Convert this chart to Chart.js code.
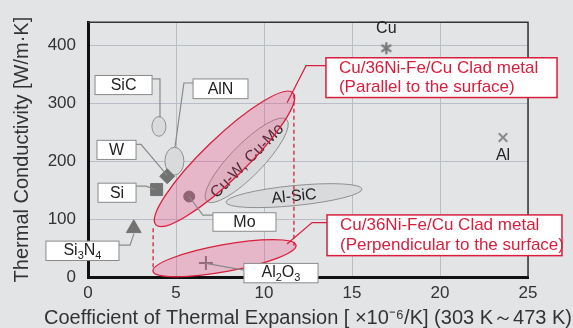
<!DOCTYPE html>
<html>
<head>
<meta charset="utf-8">
<title>Thermal conductivity vs thermal expansion</title>
<script src="https://cdn.jsdelivr.net/npm/chart.js@4.4.0/dist/chart.umd.min.js"></script>
<style>
  html, body { margin: 0; padding: 0; background: #e3e4e6; }
  #wrap { width: 573px; height: 328px; }
</style>
</head>
<body>
<div id="wrap"><canvas id="chart" width="573" height="328"></canvas></div>
<script>
// axis ticks and titles
var xTicks = [0, 5, 10, 15, 20, 25];
var yTicks = [0, 100, 200, 300, 400];
var xTitle = 'Coefficient of Thermal Expansion [ \u00d710\u207b\u2076/K] (303 K\uff5e473 K)';
var yTitle = 'Thermal Conductivity [W/m\u00b7K]';

// single materials (CTE x10^-6/K, thermal conductivity W/m.K)
var pointNames = ['Cu', 'Al', 'Si', 'W', 'Mo', 'Si3N4', 'Al2O3'];
var pointCte   = [16.95, 23.58, 3.9, 4.5, 5.75, 2.6, 6.7];
var pointTc    = [395, 241, 151, 174, 139, 84, 24];

// material ranges: the two ends of each ellipse's long axis
var zoneNames   = ['SiC', 'AlN', 'Cu-W, Cu-Mo', 'Al-SiC', 'Clad parallel', 'Clad perpendicular'];
var zoneCteFrom = [4.03, 4.91, 6.74, 7.84, 3.86, 3.69];
var zoneTcFrom  = [243, 176, 131, 129, 90, 10];
var zoneCteTo   = [4.03, 4.91, 11.29, 15.57, 11.65, 11.82];
var zoneTcTo    = [277, 224, 272, 152, 318, 55];

// dashed links between the two clad metal ranges
var linkCte    = [3.7, 11.7];
var linkTcLow  = [17, 54];
var linkTcHigh = [87, 315];

var FONT = '"Liberation Sans", Arial, sans-serif';
Chart.defaults.font.family = FONT;

var RED = '#d81e3c';

// look of each zone (half width in px)
var zoneStyle = [
  { half: 7,    fill: '#d9dadb', stroke: '#8f8f8f', lw: 1 },
  { half: 9.5,  fill: '#d9dadb', stroke: '#8f8f8f', lw: 1 },
  { half: 16,   fill: '#d9dadb', stroke: '#8f8f8f', lw: 1 },
  { half: 10,   fill: '#d9dadb', stroke: '#8f8f8f', lw: 1 },
  { half: 21,   fill: 'rgba(236,64,122,0.27)', stroke: RED, lw: 1.3 },
  { half: 13.5, fill: 'rgba(236,64,122,0.27)', stroke: RED, lw: 1.3 }
];

// label boxes and leader lines, placed in data units
var callouts = [
  { text: ['SiC'], box: [0.40, 348, 3.64, 315], leader: [[3.64, 342], [4.09, 342], [4.09, 276]] },
  { text: ['AlN'], box: [5.97, 342, 9.09, 308], leader: [[5.97, 335], [5.45, 335], [4.94, 224]] },
  { text: ['W'], box: [0.51, 236, 2.73, 203], leader: [[2.73, 229], [3.01, 229], [4.49, 176]] },
  { text: ['Si'], box: [0.57, 162, 2.73, 129], leader: [[2.73, 157], [3.30, 157], [3.81, 151]] },
  { text: ['Mo'], box: [7.10, 111, 10.68, 79], leader: [[5.74, 139], [6.53, 107], [7.10, 107]] },
  { text: ['Si3N4'], sub: true, box: [-2.39, 62, 1.76, 28.5], leader: [[1.76, 55], [2.39, 55], [2.61, 75]] },
  { text: ['Al2O3'], sub: true, box: [8.86, 23.5, 13.07, -10], leader: [[6.70, 23.5], [8.86, 12]] },
  { text: ['Cu/36Ni-Fe/Cu Clad metal', '(Parallel to the surface)'], red: true,
    box: [13.52, 378.6, 26.65, 309.9], leader: [[13.52, 365], [12.39, 365], [11.31, 301]] },
  { text: ['Cu/36Ni-Fe/Cu Clad metal', '(Perpendicular to the surface)'], red: true,
    box: [13.58, 107.2, 26.93, 36.9], leader: [[13.58, 94], [12.73, 94], [11.31, 57]] }
];

function asterisk(size, color) {
  var c = document.createElement('canvas');
  c.width = c.height = size;
  var g = c.getContext('2d');
  g.strokeStyle = color;
  g.lineWidth = 2.2;
  var m = size / 2, r = size / 2 - 1;
  [90, 35, 145].forEach(function (a) {
    var t = a * Math.PI / 180;
    g.beginPath();
    g.moveTo(m - r * Math.cos(t), m - r * Math.sin(t));
    g.lineTo(m + r * Math.cos(t), m + r * Math.sin(t));
    g.stroke();
  });
  return c;
}

function P(chart, x, y) {
  return [chart.scales.x.getPixelForValue(x), chart.scales.y.getPixelForValue(y)];
}

function zoneGeom(chart, i) {
  var a = P(chart, zoneCteFrom[i], zoneTcFrom[i]);
  var b = P(chart, zoneCteTo[i], zoneTcTo[i]);
  var dx = b[0] - a[0], dy = b[1] - a[1];
  return { cx: (a[0] + b[0]) / 2, cy: (a[1] + b[1]) / 2, rx: Math.sqrt(dx * dx + dy * dy) / 2, ang: Math.atan2(dy, dx) };
}

function drawZone(chart, i) {
  var ctx = chart.ctx, s = zoneStyle[i], g = zoneGeom(chart, i);
  ctx.save();
  ctx.beginPath();
  ctx.ellipse(g.cx, g.cy, g.rx, s.half, g.ang, 0, Math.PI * 2);
  ctx.fillStyle = s.fill;
  ctx.fill();
  ctx.lineWidth = s.lw;
  ctx.strokeStyle = s.stroke;
  ctx.stroke();
  ctx.restore();
}

function drawZoneLabel(chart, i) {
  var ctx = chart.ctx, g = zoneGeom(chart, i);
  ctx.save();
  ctx.translate(g.cx, g.cy);
  ctx.rotate(g.ang);
  ctx.fillStyle = '#222';
  ctx.font = '16px ' + FONT;
  ctx.textAlign = 'center';
  ctx.textBaseline = 'middle';
  ctx.fillText(zoneNames[i], 0, 1);
  ctx.restore();
}

// text with digits as subscripts (Si3N4, Al2O3)
function subText(ctx, str, x, y) {
  var parts = str.match(/[A-Za-z]+|\d+/g);
  var big = '16px ' + FONT, small = '11px ' + FONT;
  var w = 0;
  parts.forEach(function (p) { ctx.font = /\d/.test(p) ? small : big; w += ctx.measureText(p).width; });
  var cx = x - w / 2;
  ctx.textAlign = 'left';
  parts.forEach(function (p) {
    var isSub = /\d/.test(p);
    ctx.font = isSub ? small : big;
    ctx.fillText(p, cx, isSub ? y + 5 : y);
    cx += ctx.measureText(p).width;
  });
}

var overlay = {
  id: 'overlay',
  beforeDatasetsDraw: function (chart) {
    for (var i = 0; i < 4; i++) drawZone(chart, i);
    drawZoneLabel(chart, 2);
    drawZoneLabel(chart, 3);
  },
  afterDatasetsDraw: function (chart) {
    var ctx = chart.ctx, area = chart.chartArea;
    drawZone(chart, 4);
    drawZone(chart, 5);

    // dashed links
    ctx.save();
    ctx.strokeStyle = RED;
    ctx.lineWidth = 1.3;
    ctx.setLineDash([4, 3]);
    for (var k = 0; k < linkCte.length; k++) {
      var a = P(chart, linkCte[k], linkTcLow[k]), b = P(chart, linkCte[k], linkTcHigh[k]);
      ctx.beginPath();
      ctx.moveTo(a[0], a[1]);
      ctx.lineTo(b[0], b[1]);
      ctx.stroke();
    }
    ctx.restore();

    // top and right frame
    ctx.save();
    ctx.strokeStyle = '#333';
    ctx.lineWidth = 1.5;
    ctx.beginPath();
    ctx.moveTo(area.left, area.top);
    ctx.lineTo(area.right, area.top);
    ctx.lineTo(area.right, area.bottom);
    ctx.stroke();
    ctx.restore();

    // callouts
    callouts.forEach(function (c) {
      ctx.save();
      ctx.strokeStyle = c.red ? RED : '#8a8a8a';
      ctx.lineWidth = 1.2;
      ctx.beginPath();
      c.leader.forEach(function (pt, j) {
        var p = P(chart, pt[0], pt[1]);
        if (j === 0) ctx.moveTo(p[0], p[1]); else ctx.lineTo(p[0], p[1]);
      });
      ctx.stroke();

      var p1 = P(chart, c.box[0], c.box[1]), p2 = P(chart, c.box[2], c.box[3]);
      var w = p2[0] - p1[0], h = p2[1] - p1[1];
      ctx.fillStyle = '#fff';
      ctx.fillRect(p1[0], p1[1], w, h);
      ctx.lineWidth = c.red ? 1.5 : 1;
      ctx.strokeRect(p1[0], p1[1], w, h);

      ctx.textBaseline = 'middle';
      if (c.red) {
        ctx.fillStyle = RED;
        ctx.font = '17px ' + FONT;
        ctx.textAlign = 'left';
        var lh = 19.5, y0 = p1[1] + h / 2 - lh / 2;
        c.text.forEach(function (t, j) { ctx.fillText(t, p1[0] + 13, y0 + j * lh); });
      } else {
        ctx.fillStyle = '#222';
        if (c.sub) {
          subText(ctx, c.text[0], p1[0] + w / 2, p1[1] + h / 2);
        } else {
          ctx.font = '16px ' + FONT;
          ctx.textAlign = 'center';
          ctx.fillText(c.text[0], p1[0] + w / 2, p1[1] + h / 2 + 1);
        }
      }
      ctx.restore();
    });

    // Cu and Al names next to their marks
    ctx.save();
    ctx.fillStyle = '#222';
    ctx.font = '16px ' + FONT;
    ctx.textAlign = 'center';
    ctx.textBaseline = 'middle';
    var cu = P(chart, pointCte[0], pointTc[0]);
    ctx.fillText(pointNames[0], cu[0], cu[1] - 20);
    var al = P(chart, pointCte[1], pointTc[1]);
    ctx.fillText(pointNames[1], al[0], al[1] + 18);
    ctx.restore();

    // axis titles (drawn here so they are not squeezed to the axis length)
    ctx.save();
    ctx.fillStyle = '#333';
    ctx.font = '20px ' + FONT;
    ctx.textAlign = 'center';
    ctx.textBaseline = 'middle';
    ctx.fillText(xTitle, (area.left + area.right) / 2, chart.height - 10);
    ctx.translate(22, (area.top + area.bottom) / 2);
    ctx.rotate(-Math.PI / 2);
    ctx.fillText(yTitle, 0, 0);
    ctx.restore();
  }
};

var markColor = '#727272';

new Chart(document.getElementById('chart'), {
  type: 'scatter',
  data: {
    datasets: [{
      label: 'Materials',
      data: pointCte.map(function (x, i) { return { x: x, y: pointTc[i] }; }),
      pointStyle: [asterisk(14, '#777'), 'crossRot', 'rect', 'rectRot', 'circle', 'triangle', 'cross'],
      pointRadius: [7, 6, 8.5, 7.5, 5.5, 8.5, 7],
      pointBackgroundColor: markColor,
      pointBorderColor: ['#777', '#8a8a8a', markColor, markColor, markColor, markColor, '#7a7a7a'],
      pointBorderWidth: [1, 2, 1, 1, 1, 1, 2],
      showLine: false
    }]
  },
  options: {
    responsive: false,
    animation: false,
    events: [],
    layout: { padding: { left: 0, top: 13, right: 45, bottom: 0 } },
    plugins: { legend: { display: false }, tooltip: { enabled: false } },
    scales: {
      x: {
        type: 'linear',
        min: xTicks[0],
        max: xTicks[xTicks.length - 1],
        afterBuildTicks: function (s) { s.ticks = xTicks.map(function (v) { return { value: v }; }); },
        afterFit: function (s) { s.height = 51; },
        ticks: { color: '#333', font: { size: 17 }, padding: 6 },
        grid: { color: '#b9bdc8', lineWidth: 1, drawTicks: false },
        border: { color: '#111', width: 3 },
        title: { display: false }
      },
      y: {
        type: 'linear',
        min: 0,
        max: 440,
        afterBuildTicks: function (s) { s.ticks = yTicks.map(function (v) { return { value: v }; }); },
        afterFit: function (s) { s.width = 88; },
        ticks: { color: '#333', font: { size: 17 }, padding: 12 },
        grid: { color: '#b9bdc8', lineWidth: 1, drawTicks: false },
        border: { color: '#111', width: 3 },
        title: { display: false }
      }
    }
  },
  plugins: [overlay]
});
</script>
</body>
</html>
